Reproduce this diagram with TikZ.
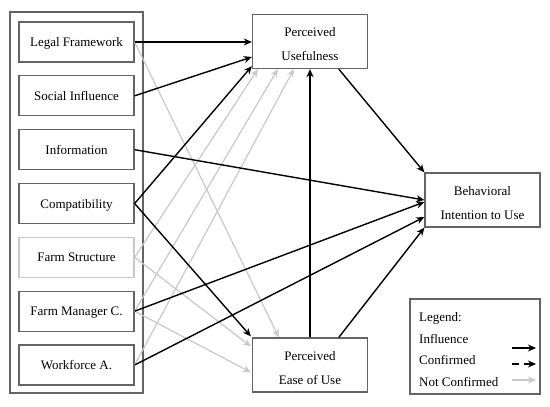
\documentclass[tikz,border=0pt]{standalone}
\usepackage{fontspec}
\setmainfont{Liberation Serif}
\usetikzlibrary{arrows.meta,calc}
\definecolor{boxgray}{RGB}{100,100,100}
\definecolor{lightg}{RGB}{200,200,200}
\begin{document}
\begin{tikzpicture}[x=1pt,y=-1pt,
  txt/.style={font=\fontsize{13}{15}\selectfont},
  inbox/.style={txt,draw=boxgray,line width=1.3pt,minimum width=115pt,minimum height=40pt,inner sep=0pt,text height=9pt,text depth=0pt},
  bigbox/.style={draw=boxgray,line width=1.3pt,minimum width=115pt,minimum height=54pt,inner sep=0pt},
  boxtext/.style={txt,align=center,inner sep=0pt,yshift=-3pt},
  blk/.style={draw=black,line width=1.4pt,-{Stealth[length=8pt,width=7pt,inset=2.5pt]}},
  gry/.style={draw=lightg,line width=1.2pt,-{Stealth[length=8pt,width=7pt,inset=2.5pt]}}]
\useasboundingbox (0,0) rectangle (550,407);
% outer frame
\node[draw=boxgray,line width=1.3pt,minimum width=133pt,minimum height=381pt,inner sep=0pt] (outer) at (76.5,202.5) {};
% input boxes
\node[inbox] (lf) at (76.5,42) {Legal Framework};
\node[inbox] (si) at (76.5,95.8) {Social Influence};
\node[inbox] (info) at (76.5,149.7) {Information};
\node[inbox] (comp) at (76.5,203.5) {Compatibility};
\node[inbox,draw=lightg] (fs) at (76.5,257.3) {Farm Structure};
\node[inbox] (fm) at (76.5,311.2) {Farm Manager C.};
\node[inbox] (wf) at (76.5,365) {Workforce A.};
% construct boxes
\node[bigbox] (pu) at (310,41.5) {};
\node[boxtext] (put) at (pu.center) {Perceived\\[9pt]Usefulness};
\node[bigbox] (bi) at (482.5,200) {};
\node[boxtext] (bit) at (bi.center) {Behavioral\\[9pt]Intention to Use};
\node[bigbox] (peu) at (310,365) {};
\node[boxtext] (peut) at (peu.center) {Perceived\\[9pt]Ease of Use};
% legend
\node[draw=boxgray,line width=1.3pt,minimum width=130pt,minimum height=95pt,inner sep=0pt] (leg) at (475,346.5) {};
\node[txt,anchor=west,inner sep=0pt] (lgt) at (419,318) {Legend:};
\node[txt,anchor=west,inner sep=0pt] (lgi) at (419,338.5) {Influence};
\node[txt,anchor=west,inner sep=0pt] (lgc) at (419,360) {Confirmed};
\node[txt,anchor=west,inner sep=0pt] (lgn) at (419,382) {Not Confirmed};
\coordinate (l1s) at (512,348); \coordinate (l1e) at (536,348);
\coordinate (l2s) at (512,364); \coordinate (l2e) at (536,364);
\coordinate (l3s) at (512,380); \coordinate (l3e) at (536,380);
\draw[blk] (l1s) -- (l1e);
\draw[blk,dash pattern=on 7pt off 5pt on 20pt] (l2s) -- (l2e);
\draw[gry] (l3s) -- (l3e);
% not confirmed (grey)
\draw[gry] (lf.east) -- ($(peu.north west)+(27,0)$);
\draw[gry] (fs.east) -- ($(pu.south west)+(6,0)$);
\draw[gry] (fm.east) -- ($(pu.south west)+(26,0)$);
\draw[gry] (wf.east) -- ($(pu.south west)+(42,0)$);
\draw[gry] (fs.east) -- ($(peu.north west)+(-1,9)$);
\draw[gry] (fm.east) -- ($(peu.north west)+(-1,35)$);
% confirmed (black)
\draw[blk] (lf.east) -- (lf.east -| pu.west);
\draw[blk] (si.east) -- ($(pu.west)+(0,15.5)$);
\draw[blk] (comp.east) -- ($(pu.south west)+(0,-3)$);
\draw[blk] (comp.east) -- ($(peu.north west)+(-1,-1)$);
\draw[blk] (info.east) -- (bi.west);
\draw[blk] (fm.east) -- ($(bi.west)+(0,2)$);
\draw[blk] (wf.east) -- ($(bi.west)+(0,17)$);
\draw[blk] (peu.north) -- (pu.south);
\draw[blk] ($(peu.north west)+(87,0)$) -- (bi.south west);
\draw[blk] ($(pu.south west)+(87,0)$) -- (bi.north west);
\end{tikzpicture}
\end{document}
